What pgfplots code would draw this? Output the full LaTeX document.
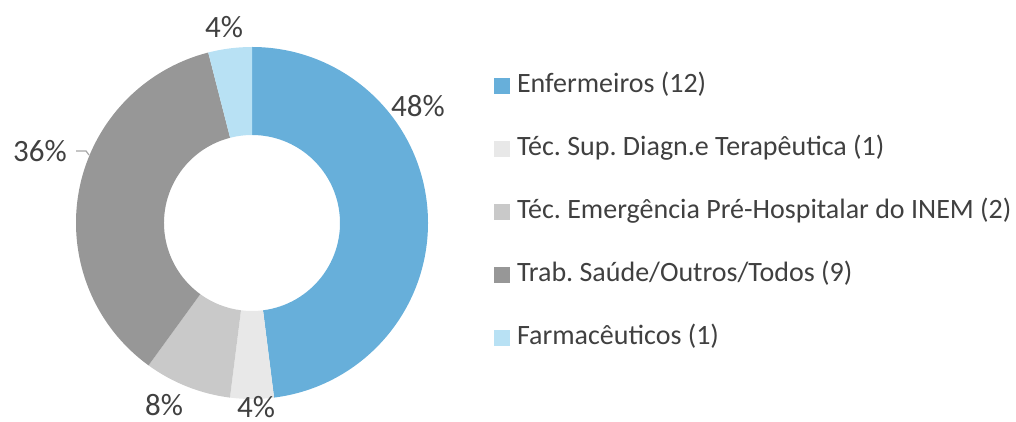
\documentclass[border=0pt]{standalone}
\usepackage{pgfplots}
\pgfplotsset{compat=1.18}
\usepackage{pgfplotstable}
\usepackage{fontspec}
\setmainfont{Carlito}
\frenchspacing
\definecolor{cEnf}{HTML}{67AFDA}
\definecolor{cSup}{HTML}{E8E8E8}
\definecolor{cEme}{HTML}{C9C9C9}
\definecolor{cTrab}{HTML}{979797}
\definecolor{cFar}{HTML}{B8E1F4}
\definecolor{txtgray}{HTML}{404040}
\definecolor{leadgray}{HTML}{A6A6A6}

% slice counts, colour and label baseline position (pixel frame, y up)
\pgfplotstableread{
value color lx  ly  pct
12    cEnf  418 305 48
1     cSup  256 4   4
2     cEme  164 6   8
9     cTrab 40  260 36
1     cFar  224 384 4
}\slices

\begin{document}
\begin{tikzpicture}
\begin{axis}[
  width=508pt, height=211pt, scale only axis,
  xmin=0, xmax=1016, ymin=0, ymax=422,
  hide axis, clip=false,
  legend style={draw=none, fill=none, inner sep=0pt, outer sep=0pt,
    at={(axis cs:494,349)}, anchor=north west,
    font=\fontsize{14}{16.8}\selectfont, text=txtgray,
    row sep=18.5pt,
    nodes={inner sep=0pt, text height=10pt, text depth=3pt},
    /tikz/every odd column/.append style={column sep=3.5pt}},
  legend cell align=left,
  legend image code/.code={\fill[#1, draw=none] (0pt,-4pt) rectangle (8pt,4pt);},
]
\pgfplotstablegetrowsof{\slices}
\pgfmathtruncatemacro{\lastrow}{\pgfplotsretval-1}
\def\total{0}
\pgfplotsforeachungrouped \i in {0,...,\lastrow}{%
  \pgfplotstablegetelem{\i}{value}\of{\slices}%
  \pgfmathsetmacro{\total}{\total+\pgfplotsretval}}
\def\startangle{90}
\pgfplotsforeachungrouped \i in {0,...,\lastrow}{%
  \pgfplotstablegetelem{\i}{value}\of{\slices}\let\val\pgfplotsretval
  \pgfplotstablegetelem{\i}{color}\of{\slices}\let\col\pgfplotsretval
  \pgfplotstablegetelem{\i}{lx}\of{\slices}\let\lx\pgfplotsretval
  \pgfplotstablegetelem{\i}{ly}\of{\slices}\let\ly\pgfplotsretval
  \pgfplotstablegetelem{\i}{pct}\of{\slices}\let\pct\pgfplotsretval
  \pgfmathsetmacro{\endangle}{\startangle-360*\val/\total}
  \edef\doslice{%
    \noexpand\fill[\col] ([shift={(\startangle:88pt)}]axis cs:252,199)
      arc[start angle=\startangle, end angle=\endangle, radius=88pt]
      -- ([shift={(\endangle:44pt)}]axis cs:252,199)
      arc[start angle=\endangle, end angle=\startangle, radius=44pt] -- cycle;
    \noexpand\node[font=\noexpand\fontsize{15.5}{18}\noexpand\selectfont,
      text=txtgray, inner sep=0pt, anchor=base] at (axis cs:\lx,\ly) {\pct\noexpand\%};}
  \doslice
  \global\let\startangle\endangle
}
\draw[leadgray, line width=0.6pt] (axis cs:76,271) -- (axis cs:86,271) -- (axis cs:89,267);

\addlegendimage{fill=cEnf, draw=none}
\addlegendentry{Enfermeiros (12)}
\addlegendimage{fill=cSup, draw=none}
\addlegendentry{Téc. Sup. Diagn.e Terapêutica (1)}
\addlegendimage{fill=cEme, draw=none}
\addlegendentry{Téc. Emergência Pré-Hospitalar do INEM (2)}
\addlegendimage{fill=cTrab, draw=none}
\addlegendentry{Trab. Saúde/Outros/Todos (9)}
\addlegendimage{fill=cFar, draw=none}
\addlegendentry{Farmacêuticos (1)}
\end{axis}
\pgfresetboundingbox
\path (current axis.south west) rectangle (current axis.north east);
\end{tikzpicture}
\end{document}
